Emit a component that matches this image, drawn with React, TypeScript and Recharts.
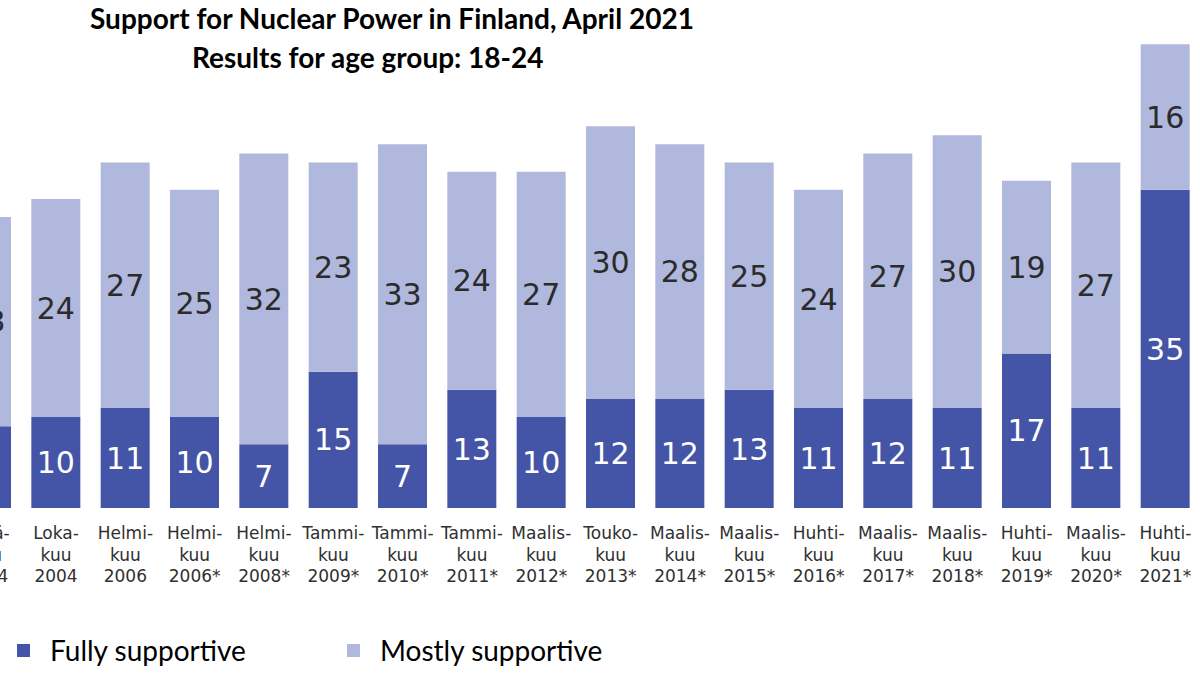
import React from "react";
import { BarChart, Bar, XAxis, YAxis, LabelList } from "recharts";

const categories = [
  "Kesä-\nkuu\n2004",
  "Loka-\nkuu\n2004",
  "Helmi-\nkuu\n2006",
  "Helmi-\nkuu\n2006*",
  "Helmi-\nkuu\n2008*",
  "Tammi-\nkuu\n2009*",
  "Tammi-\nkuu\n2010*",
  "Tammi-\nkuu\n2011*",
  "Maalis-\nkuu\n2012*",
  "Touko-\nkuu\n2013*",
  "Maalis-\nkuu\n2014*",
  "Maalis-\nkuu\n2015*",
  "Huhti-\nkuu\n2016*",
  "Maalis-\nkuu\n2017*",
  "Maalis-\nkuu\n2018*",
  "Huhti-\nkuu\n2019*",
  "Maalis-\nkuu\n2020*",
  "Huhti-\nkuu\n2021*",
];
const fullySupportive = [9, 10, 11, 10, 7, 15, 7, 13, 10, 12, 12, 13, 11, 12, 11, 17, 11, 35];
const mostlySupportive = [23, 24, 27, 25, 32, 23, 33, 24, 27, 30, 28, 25, 24, 27, 30, 19, 27, 16];

const titleLine1 = "Support for Nuclear Power in Finland, April 2021";
const titleLine2 = "Results for age group: 18-24";
const seriesNames = ["Fully supportive", "Mostly supportive"];

const DARK = "#4454a6";
const LIGHT = "#b0b8de";

const data = categories.map((c, i) => ({
  name: c,
  full: fullySupportive[i],
  mostly: mostlySupportive[i],
}));

const Tick = (props: any) => {
  const { x, y, payload } = props;
  const lines = String(payload.value).split("\n");
  return (
    <g transform={`translate(${x},${y})`}>
      {lines.map((l, i) => (
        <text
          key={i}
          x={0}
          y={0}
          dy={23 + i * 21.5}
          textAnchor="middle"
          fill="#303030"
          fontSize={17}
          fontFamily="DejaVu Sans"
        >
          {l}
        </text>
      ))}
    </g>
  );
};

export default function App() {
  return (
    <div
      style={{
        position: "absolute",
        left: 0,
        top: 0,
        width: 1200,
        height: 675,
        overflow: "hidden",
        background: "#ffffff",
      }}
    >
      <div style={{ position: "absolute", left: -48, top: 0 }}>
        <BarChart
          width={1248}
          height={675}
          data={data}
          margin={{ top: 8, right: 0, left: 0, bottom: 87 }}
          barSize={49}
        >
          <XAxis
            dataKey="name"
            interval={0}
            tickLine={false}
            axisLine={false}
            height={80}
            tick={<Tick />}
          />
          <YAxis hide domain={[0, 55]} />
          <Bar dataKey="full" stackId="a" fill={DARK} isAnimationActive={false}>
            <LabelList
              dataKey="full"
              position="center"
              fill="#ffffff"
              fontSize={30}
              fontFamily="DejaVu Sans"
            />
          </Bar>
          <Bar dataKey="mostly" stackId="a" fill={LIGHT} isAnimationActive={false}>
            <LabelList
              dataKey="mostly"
              position="center"
              fill="#2b2b2b"
              fontSize={30}
              fontFamily="DejaVu Sans"
            />
          </Bar>
        </BarChart>
      </div>
      <div
        style={{
          position: "absolute",
          left: 90,
          top: 1,
          fontFamily: "Lato",
          fontWeight: 700,
          fontSize: 28,
          lineHeight: "34px",
          color: "#000",
          whiteSpace: "nowrap",
        }}
      >
        {titleLine1}
      </div>
      <div
        style={{
          position: "absolute",
          left: 192,
          top: 40,
          fontFamily: "Lato",
          fontWeight: 700,
          fontSize: 28,
          lineHeight: "34px",
          color: "#000",
          whiteSpace: "nowrap",
        }}
      >
        {titleLine2}
      </div>
      {seriesNames.map((n, i) => (
        <div
          key={n}
          style={{
            position: "absolute",
            left: i === 0 ? 17 : 347,
            top: 633,
            display: "flex",
            alignItems: "center",
            fontFamily: "Lato",
            fontSize: 28,
            lineHeight: "34px",
            color: "#000",
            whiteSpace: "nowrap",
          }}
        >
          <span
            style={{
              display: "inline-block",
              width: 13,
              height: 13,
              background: i === 0 ? DARK : LIGHT,
              marginRight: 20,
            }}
          />
          {n}
        </div>
      ))}
    </div>
  );
}
